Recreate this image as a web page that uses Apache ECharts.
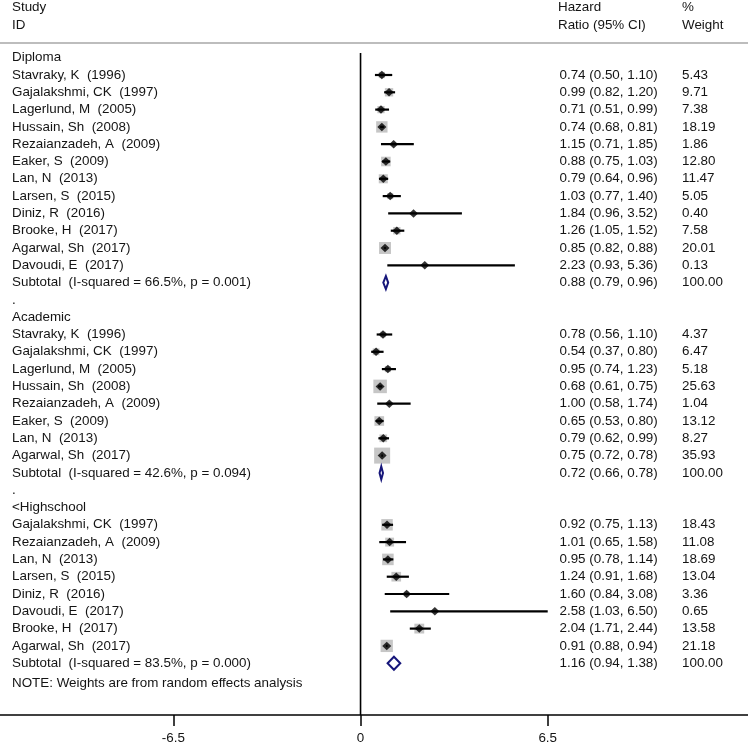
<!DOCTYPE html>
<html>
<head>
<meta charset="utf-8">
<script src="https://cdn.jsdelivr.net/npm/echarts@6/dist/echarts.min.js"></script>
<style>html,body{margin:0;padding:0;background:#fff}#c{width:748px;height:745px}</style>
</head>
<body>
<div id="c"></div>
<script>
// ---------- data ----------
const groupNames = ['Diploma', 'Academic', '<Highschool'];

const diplomaStudies = ['Stavraky, K  (1996)', 'Gajalakshmi, CK  (1997)', 'Lagerlund, M  (2005)', 'Hussain, Sh  (2008)', 'Rezaianzadeh, A  (2009)', 'Eaker, S  (2009)', 'Lan, N  (2013)', 'Larsen, S  (2015)', 'Diniz, R  (2016)', 'Brooke, H  (2017)', 'Agarwal, Sh  (2017)', 'Davoudi, E  (2017)'];
const diplomaHR = [0.74, 0.99, 0.71, 0.74, 1.15, 0.88, 0.79, 1.03, 1.84, 1.26, 0.85, 2.23];
const diplomaLo = [0.50, 0.82, 0.51, 0.68, 0.71, 0.75, 0.64, 0.77, 0.96, 1.05, 0.82, 0.93];
const diplomaHi = [1.10, 1.20, 0.99, 0.81, 1.85, 1.03, 0.96, 1.40, 3.52, 1.52, 0.88, 5.36];
const diplomaW = [5.43, 9.71, 7.38, 18.19, 1.86, 12.80, 11.47, 5.05, 0.40, 7.58, 20.01, 0.13];

const academicStudies = ['Stavraky, K  (1996)', 'Gajalakshmi, CK  (1997)', 'Lagerlund, M  (2005)', 'Hussain, Sh  (2008)', 'Rezaianzadeh, A  (2009)', 'Eaker, S  (2009)', 'Lan, N  (2013)', 'Agarwal, Sh  (2017)'];
const academicHR = [0.78, 0.54, 0.95, 0.68, 1.00, 0.65, 0.79, 0.75];
const academicLo = [0.56, 0.37, 0.74, 0.61, 0.58, 0.53, 0.62, 0.72];
const academicHi = [1.10, 0.80, 1.23, 0.75, 1.74, 0.80, 0.99, 0.78];
const academicW = [4.37, 6.47, 5.18, 25.63, 1.04, 13.12, 8.27, 35.93];

const highStudies = ['Gajalakshmi, CK  (1997)', 'Rezaianzadeh, A  (2009)', 'Lan, N  (2013)', 'Larsen, S  (2015)', 'Diniz, R  (2016)', 'Davoudi, E  (2017)', 'Brooke, H  (2017)', 'Agarwal, Sh  (2017)'];
const highHR = [0.92, 1.01, 0.95, 1.24, 1.60, 2.58, 2.04, 0.91];
const highLo = [0.75, 0.65, 0.78, 0.91, 0.84, 1.03, 1.71, 0.88];
const highHi = [1.13, 1.58, 1.14, 1.68, 3.08, 6.50, 2.44, 0.94];
const highW = [18.43, 11.08, 18.69, 13.04, 3.36, 0.65, 13.58, 21.18];

const subtotalLabels = ['Subtotal  (I-squared = 66.5%, p = 0.001)', 'Subtotal  (I-squared = 42.6%, p = 0.094)', 'Subtotal  (I-squared = 83.5%, p = 0.000)'];
const subtotalHR = [0.88, 0.72, 1.16];
const subtotalLo = [0.79, 0.66, 0.94];
const subtotalHi = [0.96, 0.78, 1.38];
const subtotalW = [100.00, 100.00, 100.00];

const xTicks = [-6.5, 0, 6.5];
const noteText = 'NOTE: Weights are from random effects analysis';

// ---------- build rows ----------
const groupsData = [
  [diplomaStudies, diplomaHR, diplomaLo, diplomaHi, diplomaW],
  [academicStudies, academicHR, academicLo, academicHi, academicW],
  [highStudies, highHR, highLo, highHi, highW]
];
const rows = [];
let r = 0;
groupsData.forEach((g, gi) => {
  if (gi > 0) { rows.push({ kind: 'dot', label: '.', row: r++ }); }
  rows.push({ kind: 'head', label: groupNames[gi], row: r++ });
  g[0].forEach((name, i) => {
    rows.push({ kind: 'study', label: name, hr: g[1][i], lo: g[2][i], hi: g[3][i], w: g[4][i], row: r++ });
  });
  rows.push({ kind: 'sub', label: subtotalLabels[gi], hr: subtotalHR[gi], lo: subtotalLo[gi], hi: subtotalHi[gi], w: subtotalW[gi], row: r++ });
});
rows.push({ kind: 'note', label: noteText, row: r + 0.15 });

const studies = rows.filter(d => d.kind === 'study');
const subs = rows.filter(d => d.kind === 'sub');
const fmt = v => v.toFixed(2);

const FONT = "'Liberation Sans', Arial, sans-serif";
const FS = 13.4;
const TXT = '#141414';

const Y_MIN = -3.335, Y_MAX = 37.994;

const chart = echarts.init(document.getElementById('c'), null, { renderer: 'canvas' });
chart.setOption({
  animation: false,
  backgroundColor: '#fff',
  grid: { left: 0, right: 0, top: 0, bottom: 30, containLabel: false },
  xAxis: {
    type: 'value', min: -12.52, max: 13.455,
    axisLine: { show: true, onZero: false, lineStyle: { color: '#000', width: 1.5 } },
    axisTick: { show: true, customValues: xTicks, length: 11, lineStyle: { color: '#000', width: 1.5 } },
    axisLabel: { show: true, customValues: xTicks, margin: 17, color: TXT, fontSize: FS, fontFamily: FONT,
      formatter: v => String(v) },
    splitLine: { show: false }
  },
  yAxis: { type: 'value', inverse: true, min: Y_MIN, max: Y_MAX, show: false },
  graphic: [
    { type: 'line', shape: { x1: 0, y1: 43, x2: 748, y2: 43 }, style: { stroke: '#bdbdbd', lineWidth: 2 } },
    { type: 'text', x: 12, y: 7.5, style: { text: 'Study', fill: TXT, font: FS + 'px ' + FONT, textVerticalAlign: 'middle' } },
    { type: 'text', x: 12, y: 25, style: { text: 'ID', fill: TXT, font: FS + 'px ' + FONT, textVerticalAlign: 'middle' } },
    { type: 'text', x: 558, y: 7.5, style: { text: 'Hazard', fill: TXT, font: FS + 'px ' + FONT, textVerticalAlign: 'middle' } },
    { type: 'text', x: 558, y: 25, style: { text: 'Ratio (95% CI)', fill: TXT, font: FS + 'px ' + FONT, textVerticalAlign: 'middle' } },
    { type: 'text', x: 682, y: 7.5, style: { text: '%', fill: TXT, font: FS + 'px ' + FONT, textVerticalAlign: 'middle' } },
    { type: 'text', x: 682, y: 25, style: { text: 'Weight', fill: TXT, font: FS + 'px ' + FONT, textVerticalAlign: 'middle' } }
  ],
  series: [
    { // null line
      type: 'line', data: [[0, -0.27], [0, Y_MAX]], symbol: 'none',
      lineStyle: { color: '#000', width: 1.6 }, z: 1, silent: true
    },
    { // weight boxes
      type: 'scatter', data: studies.map(d => [d.hr, d.row, d.w]), symbol: 'rect',
      symbolSize: v => 2.67 * Math.sqrt(v[2]),
      itemStyle: { color: '#b8b8b8' }, z: 2, silent: true
    },
    { // CI lines
      type: 'custom', z: 3, silent: true,
      data: studies.map(d => [d.lo, d.hi, d.row]),
      renderItem: (params, api) => {
        const a = api.coord([api.value(0), api.value(2)]);
        const b = api.coord([api.value(1), api.value(2)]);
        return { type: 'line', shape: { x1: a[0], y1: a[1], x2: b[0], y2: b[1] }, style: { stroke: '#000', lineWidth: 2.2 } };
      }
    },
    { // point estimates
      type: 'scatter', data: studies.map(d => [d.hr, d.row]), symbol: 'diamond', symbolSize: [9, 8.5],
      itemStyle: { color: '#000' }, z: 4, silent: true
    },
    { // subtotal diamonds
      type: 'custom', z: 4, silent: true,
      data: subs.map(d => [d.lo, d.hr, d.hi, d.row]),
      renderItem: (params, api) => {
        const y = api.value(3);
        const l = api.coord([api.value(0), y]);
        const m = api.coord([api.value(1), y]);
        const h = api.coord([api.value(2), y]);
        const hh = 6.5;
        return { type: 'polygon', shape: { points: [[l[0], l[1]], [m[0], m[1] - hh], [h[0], h[1]], [m[0], m[1] + hh]] },
          style: { fill: 'none', stroke: '#16167a', lineWidth: 2 } };
      }
    },
    { // table text
      type: 'custom', z: 5, silent: true,
      data: rows.map(d => [0, d.row]),
      renderItem: (params, api) => {
        const d = rows[params.dataIndex];
        const y = api.coord([0, api.value(1)])[1];
        const font = FS + 'px ' + FONT;
        const children = [{ type: 'text', x: 12, y: y, style: { text: d.label, fill: TXT, font, textVerticalAlign: 'middle' } }];
        if (d.kind === 'study' || d.kind === 'sub') {
          children.push({ type: 'text', x: 559.5, y: y, style: { text: fmt(d.hr) + ' (' + fmt(d.lo) + ', ' + fmt(d.hi) + ')', fill: TXT, font, textVerticalAlign: 'middle' } });
          children.push({ type: 'text', x: 682, y: y, style: { text: fmt(d.w), fill: TXT, font, textVerticalAlign: 'middle' } });
        }
        return { type: 'group', children };
      }
    }
  ]
});
</script>
</body>
</html>
